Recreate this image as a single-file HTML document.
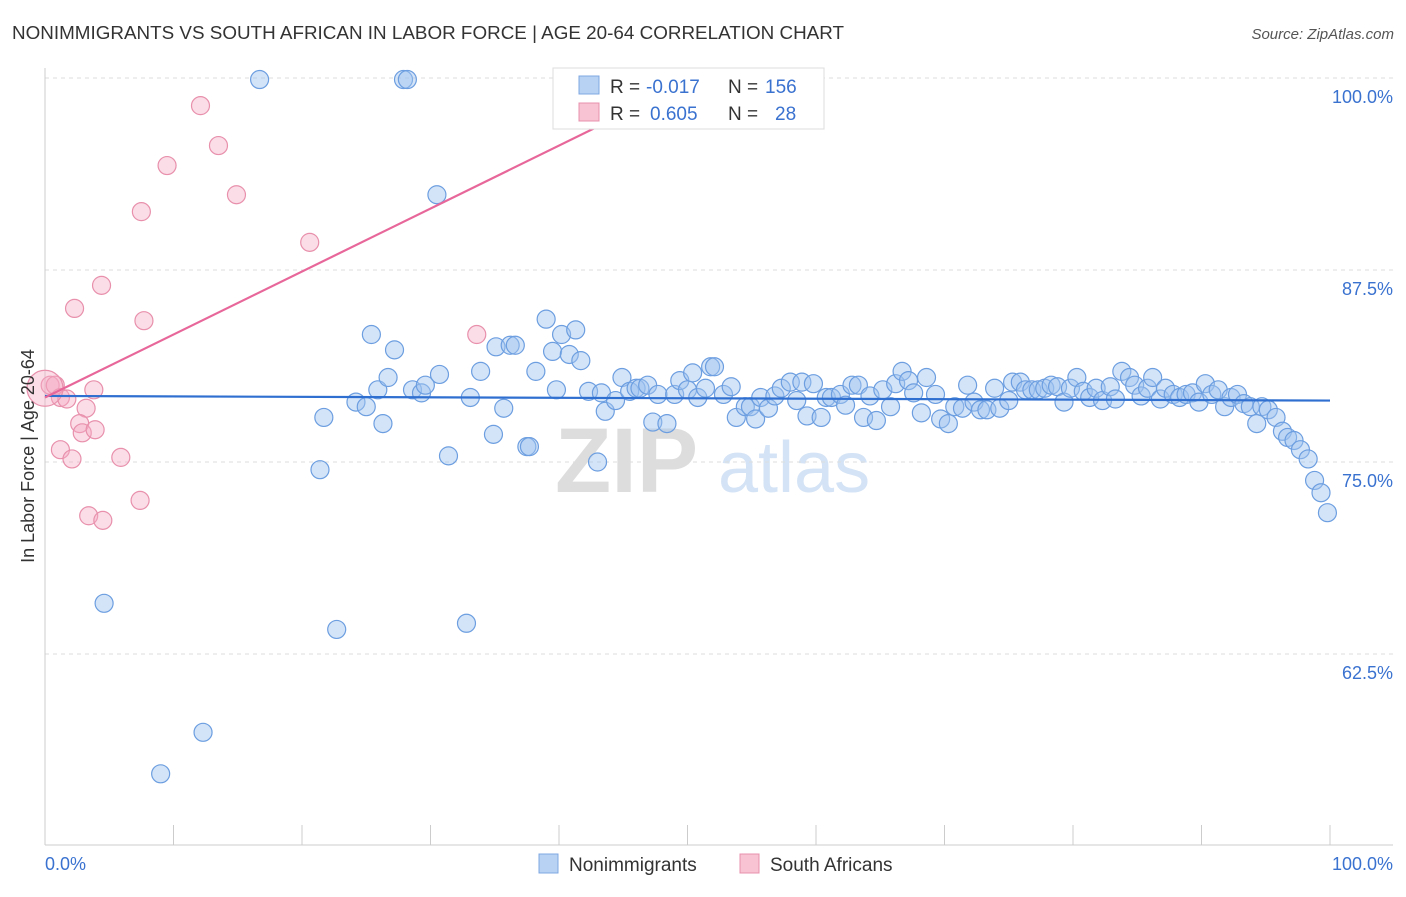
<!DOCTYPE html>
<html><head><meta charset="utf-8">
<style>
body{margin:0;background:#fff;font-family:"Liberation Sans",sans-serif;}
svg text{font-family:"Liberation Sans",sans-serif;}
</style></head>
<body>
<svg id="chart" width="1406" height="892" viewBox="0 0 1406 892" xmlns="http://www.w3.org/2000/svg">
<text x="12" y="39" font-size="18" fill="#333" textLength="832" lengthAdjust="spacingAndGlyphs">NONIMMIGRANTS VS SOUTH AFRICAN IN LABOR FORCE | AGE 20-64 CORRELATION CHART</text>
<text x="1394" y="39" font-size="15" fill="#555" font-style="italic" text-anchor="end">Source: ZipAtlas.com</text>
<g>
<text x="555" y="492" font-size="92" fill="#ddd" font-family="Liberation Serif" font-weight="bold">ZIP</text>
<text x="718" y="492" font-size="72" fill="#d4e3f5">atlas</text>
</g>
<g id="grid"></g>
<g id="axes"></g>
<g id="pts"></g>
<g id="trend"></g>
<g>
<rect x="553" y="68" width="271" height="61" fill="#fff" stroke="#ddd"/>
<rect x="579" y="76" width="20" height="18" fill="#b8d2f4" stroke="#7ea8e0"/>
<text x="610" y="93" font-size="19" fill="#333">R =</text>
<text x="646" y="93" font-size="19" fill="#3a72d0">-0.017</text>
<text x="728" y="93" font-size="19" fill="#333">N =</text>
<text x="765" y="93" font-size="19" fill="#3a72d0">156</text>
<rect x="579" y="103" width="20" height="18" fill="#f8c4d4" stroke="#e890ac"/>
<text x="610" y="120" font-size="19" fill="#333">R =</text>
<text x="650" y="120" font-size="19" fill="#3a72d0">0.605</text>
<text x="728" y="120" font-size="19" fill="#333">N =</text>
<text x="775" y="120" font-size="19" fill="#3a72d0">28</text>
</g>
<g>
<rect x="539" y="854" width="19" height="19" fill="#b8d2f4" stroke="#7ea8e0"/>
<text x="569" y="871" font-size="19" fill="#333">Nonimmigrants</text>
<rect x="740" y="854" width="19" height="19" fill="#f8c4d4" stroke="#e890ac"/>
<text x="770" y="871" font-size="19" fill="#333">South Africans</text>
</g>
<text transform="translate(34,456) rotate(-90)" font-size="18" fill="#333" text-anchor="middle">In Labor Force | Age 20-64</text>
</svg>
<script>
const yTicks=[100,87.5,75,62.5];
const yTickLabels=["100.0%","87.5%","75.0%","62.5%"];
const xTickCount=10;
const xLabels=["0.0%","100.0%"];
const blueX=[16.7,27.9,28.2,30.5,4.6,22.7,32.8,12.3,9.0,21.4,21.7,25.4,27.2,24.2,25.0,25.9,26.3,26.7,28.6,29.3,29.6,30.7,31.4,33.1,33.9,34.9,35.1,36.2,36.6,35.7,37.5,37.7,38.2,39.0,39.5,40.2,39.8,40.8,41.3,41.7,42.3,43.0,43.3,43.6,44.4,44.9,45.5,46.0,46.3,46.9,47.3,47.7,48.4,49.0,49.4,50.0,50.4,50.8,51.4,51.8,52.1,52.8,53.4,53.8,54.5,54.9,55.3,55.7,56.3,56.8,57.3,58.0,58.5,58.9,59.3,59.8,60.4,60.8,61.2,61.9,62.3,62.8,63.3,63.7,64.2,64.7,65.2,65.8,66.2,66.7,67.2,67.6,68.2,68.6,69.3,69.7,70.3,70.8,71.4,71.8,72.3,72.8,73.3,73.9,74.3,75.0,75.3,75.9,76.3,76.8,77.3,77.8,78.3,78.8,79.3,79.8,80.3,80.8,81.3,81.8,82.3,82.9,83.3,83.8,84.4,84.8,85.3,85.8,86.2,86.8,87.2,87.8,88.3,88.8,89.3,89.8,90.3,90.8,91.3,91.8,92.3,92.8,93.3,93.8,94.3,94.7,95.2,95.8,96.3,96.7,97.2,97.7,98.3,98.8,99.3,99.8];
const blueY=[99.9,99.9,99.9,92.4,65.8,64.1,64.5,57.4,54.7,74.5,77.9,83.3,82.3,78.9,78.6,79.7,77.5,80.5,79.7,79.5,80.0,80.7,75.4,79.2,80.9,76.8,82.5,82.6,82.6,78.5,76.0,76.0,80.9,84.3,82.2,83.3,79.7,82.0,83.6,81.6,79.6,75.0,79.5,78.3,79.0,80.5,79.6,79.8,79.8,80.0,77.6,79.4,77.5,79.4,80.3,79.7,80.8,79.2,79.8,81.2,81.2,79.4,79.9,77.9,78.6,78.6,77.8,79.2,78.5,79.3,79.8,80.2,79.0,80.2,78.0,80.1,77.9,79.2,79.2,79.4,78.7,80.0,80.0,77.9,79.3,77.7,79.7,78.6,80.1,80.9,80.3,79.5,78.2,80.5,79.4,77.8,77.5,78.6,78.5,80.0,78.9,78.4,78.4,79.8,78.5,79.0,80.2,80.2,79.7,79.7,79.7,79.8,80.0,79.9,78.9,79.8,80.5,79.6,79.2,79.8,79.0,79.9,79.1,80.9,80.5,80.0,79.3,79.8,80.5,79.1,79.8,79.4,79.2,79.4,79.5,78.9,80.1,79.4,79.7,78.6,79.2,79.4,78.8,78.6,77.5,78.6,78.4,77.9,77.0,76.6,76.4,75.8,75.2,73.8,73.0,71.7];
const pinkX=[12.1,13.5,9.5,14.9,7.5,20.6,4.4,2.3,7.7,33.6,0.4,0.8,3.8,1.2,1.7,3.2,2.7,2.9,3.9,1.2,2.1,5.9,7.4,3.4,4.5,56.8,0.0];
const pinkY=[98.2,95.6,94.3,92.4,91.3,89.3,86.5,85.0,84.2,83.3,80.0,80.0,79.7,79.2,79.1,78.5,77.5,76.9,77.1,75.8,75.2,75.3,72.5,71.5,71.2,99.9,79.8];
const pinkR=[9,9,9,9,9,9,9,9,9,9,9,9,9,9,9,9,9,9,9,9,9,9,9,9,9,9,18];
const blueTrend=[79.3,79.0];
const pinkTrend=[79.2,120.2];
const X0=45,X1=1330,YT=78,PXPER=192/12.5;
const sx=v=>X0+(X1-X0)*v/100;
const sy=v=>YT+(100-v)*PXPER;
const NS="http://www.w3.org/2000/svg";
function mk(tag,attrs,parent){const e=document.createElementNS(NS,tag);for(const k in attrs)e.setAttribute(k,attrs[k]);parent.appendChild(e);return e;}
const grid=document.getElementById('grid'),axes=document.getElementById('axes'),pts=document.getElementById('pts'),trend=document.getElementById('trend');
yTicks.forEach((t,i)=>{
 const l=mk('line',{x1:45,x2:1393,y1:sy(t),y2:sy(t),stroke:'#ddd','stroke-dasharray':'4,4'},grid);
 
 
 const tx=mk('text',{x:1393,y:sy(t)+25,'font-size':18,fill:'#3a72d0','text-anchor':'end'},grid);
 tx.textContent=yTickLabels[i];
 
 
});
mk('line',{x1:45,x2:45,y1:68,y2:845,stroke:'#ccc'},axes);
mk('line',{x1:45,x2:1393,y1:845,y2:845,stroke:'#ccc'},axes);
for(let i=0;i<=xTickCount;i++){
 const x=sx(i*100/xTickCount);
 const t=mk('line',{x1:x,x2:x,y1:825,y2:845,stroke:'#ccc'},axes);
 
 
}
const xl0=mk('text',{x:45,y:870,'font-size':18,fill:'#3a72d0'},axes);xl0.textContent=xLabels[0];


const xl1=mk('text',{x:1393,y:870,'font-size':18,fill:'#3a72d0','text-anchor':'end'},axes);xl1.textContent=xLabels[1];


blueX.forEach((x,i)=>{
 const c=mk('circle',{cx:sx(x),cy:sy(blueY[i]),r:9,fill:'rgba(160,195,240,0.45)',stroke:'#6c9ee0','stroke-width':1.2},pts);
 
 
});
pinkX.forEach((x,i)=>{
 const c=mk('circle',{cx:sx(x),cy:sy(pinkY[i]),r:pinkR[i],fill:'rgba(245,170,195,0.4)',stroke:'#e890ac','stroke-width':1.2},pts);
 
 
});
const bl=mk('line',{x1:sx(0),y1:sy(blueTrend[0]),x2:sx(100),y2:sy(blueTrend[1]),stroke:'#2f6fd0','stroke-width':2.2},trend);


const pEnd=47.9;
const pl=mk('line',{x1:sx(0),y1:sy(pinkTrend[0]),x2:sx(pEnd),y2:sy(pinkTrend[0]+(pinkTrend[1]-pinkTrend[0])*pEnd/100),stroke:'#e8679a','stroke-width':2.2},trend);


</script>
</body></html>
